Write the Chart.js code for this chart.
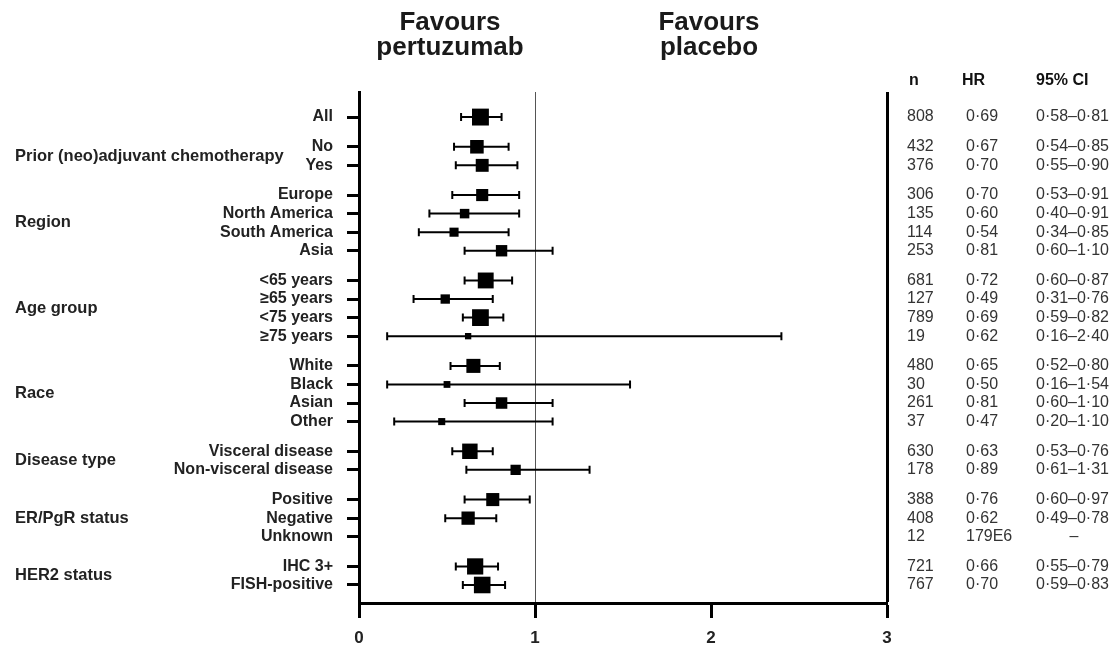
<!DOCTYPE html>
<html>
<head>
<meta charset="utf-8">
<script src="https://cdn.jsdelivr.net/npm/chart.js@4.4.1/dist/chart.umd.min.js"></script>
<style>
  html, body { margin: 0; padding: 0; background: #fff; }
  #wrap { width: 1114px; height: 646px; }
</style>
</head>
<body>
<div id="wrap"><canvas id="forest"></canvas></div>
<script>
// groups of subgroups, in order from top to bottom
const groupNames = ['', 'Prior (neo)adjuvant chemotherapy', 'Region', 'Age group', 'Race', 'Disease type', 'ER/PgR status', 'HER2 status'];
const groupSizes = [1, 2, 4, 4, 4, 2, 3, 2];
const subgroups = ['All', 'No', 'Yes', 'Europe', 'North America', 'South America', 'Asia',
  '<65 years', '≥65 years', '<75 years', '≥75 years', 'White', 'Black', 'Asian', 'Other',
  'Visceral disease', 'Non-visceral disease', 'Positive', 'Negative', 'Unknown', 'IHC 3+', 'FISH-positive'];
const nValues = [808, 432, 376, 306, 135, 114, 253, 681, 127, 789, 19, 480, 30, 261, 37, 630, 178, 388, 408, 12, 721, 767];
const hrValues = [0.69, 0.67, 0.70, 0.70, 0.60, 0.54, 0.81, 0.72, 0.49, 0.69, 0.62, 0.65, 0.50, 0.81, 0.47, 0.63, 0.89, 0.76, 0.62, null, 0.66, 0.70];
const ciLow = [0.58, 0.54, 0.55, 0.53, 0.40, 0.34, 0.60, 0.60, 0.31, 0.59, 0.16, 0.52, 0.16, 0.60, 0.20, 0.53, 0.61, 0.60, 0.49, null, 0.55, 0.59];
const ciHigh = [0.81, 0.85, 0.90, 0.91, 0.91, 0.85, 1.10, 0.87, 0.76, 0.82, 2.40, 0.80, 1.54, 1.10, 1.10, 0.76, 1.31, 0.97, 0.78, null, 0.79, 0.83];
const unknownHrText = '179E6';
const xTicks = [0, 1, 2, 3];

// row positions: one unit per row, a bigger gap between groups
const rowPos = [];
const groupMid = [];
let p = 0;
groupSizes.forEach((size, g) => {
  if (g > 0) p += 1.6;
  const start = p;
  for (let i = 0; i < size; i++) {
    rowPos.push(p);
    if (i < size - 1) p += 1;
  }
  groupMid.push((start + p) / 2);
});

const fmt = v => v.toFixed(2).replace('.', '·');
const hrText = hrValues.map(v => v === null ? unknownHrText : fmt(v));
const ciText = ciLow.map((lo, i) => lo === null ? '–' : fmt(lo) + '–' + fmt(ciHigh[i]));

// marker side grows with sample size
const markerRadius = nValues.map(n => (4.4 + 0.44 * Math.sqrt(n)) / Math.SQRT2);

const FONT = "Arial, 'Liberation Sans', sans-serif";

const points = [];
const radii = [];
hrValues.forEach((v, i) => {
  if (v === null) return;
  points.push({ x: v, y: rowPos[i] });
  radii.push(markerRadius[i]);
});

// whiskers for the confidence intervals
const errorBars = {
  id: 'errorBars',
  beforeDatasetsDraw(chart) {
    const { ctx, scales: { x, y } } = chart;
    ctx.save();
    ctx.strokeStyle = '#000';
    ctx.lineWidth = 2;
    ciLow.forEach((lo, i) => {
      if (lo === null) return;
      const py = y.getPixelForValue(rowPos[i]);
      const x1 = x.getPixelForValue(lo);
      const x2 = x.getPixelForValue(ciHigh[i]);
      ctx.beginPath();
      ctx.moveTo(x1, py); ctx.lineTo(x2, py);
      ctx.moveTo(x1, py - 4); ctx.lineTo(x1, py + 4);
      ctx.moveTo(x2, py - 4); ctx.lineTo(x2, py + 4);
      ctx.stroke();
    });
    ctx.restore();
  }
};

// titles, group names and the n / HR / CI table
const annotations = {
  id: 'annotations',
  afterDraw(chart) {
    const { ctx, scales: { y } } = chart;
    ctx.save();
    ctx.fillStyle = '#1a1a1a';
    ctx.textAlign = 'center';
    ctx.textBaseline = 'alphabetic';
    ctx.font = 'bold 26px ' + FONT;
    ctx.fillText('Favours', 450, 30);
    ctx.fillText('pertuzumab', 450, 55);
    ctx.fillText('Favours', 709, 30);
    ctx.fillText('placebo', 709, 55);

    ctx.textAlign = 'left';
    ctx.textBaseline = 'middle';
    ctx.font = 'bold 16.5px ' + FONT;
    ctx.fillStyle = '#222';
    groupNames.forEach((name, g) => {
      if (name) ctx.fillText(name, 15, y.getPixelForValue(groupMid[g]));
    });

    ctx.font = 'bold 16px ' + FONT;
    ctx.fillStyle = '#111';
    ctx.fillText('n', 909, 81);
    ctx.fillText('HR', 962, 81);
    ctx.fillText('95% CI', 1036, 81);

    ctx.font = '16px ' + FONT;
    ctx.fillStyle = '#333';
    nValues.forEach((n, i) => {
      const py = y.getPixelForValue(rowPos[i]);
      ctx.fillText(String(n), 907, py);
      ctx.fillText(hrText[i], 966, py);
      if (ciLow[i] === null) {
        ctx.textAlign = 'center';
        ctx.fillText(ciText[i], 1074, py);
        ctx.textAlign = 'left';
      } else {
        ctx.fillText(ciText[i], 1036, py);
      }
    });
    ctx.restore();
  }
};

const lastPos = rowPos[rowPos.length - 1];

new Chart(document.getElementById('forest'), {
  type: 'scatter',
  data: {
    datasets: [{
      data: points,
      pointStyle: 'rect',
      pointRadius: radii,
      pointHoverRadius: radii,
      backgroundColor: '#000',
      borderWidth: 0
    }]
  },
  options: {
    responsive: true,
    maintainAspectRatio: false,
    animation: false,
    events: [],
    layout: { padding: { left: 0, right: 227, top: 92, bottom: 0 } },
    plugins: { legend: { display: false }, tooltip: { enabled: false } },
    scales: {
      x: {
        type: 'linear',
        min: 0,
        max: 3,
        afterBuildTicks: scale => { scale.ticks = xTicks.map(v => ({ value: v })); },
        afterFit: scale => { scale.height = 43; },
        ticks: { color: '#222', padding: 10, font: { family: FONT, size: 17, weight: 'bold' } },
        grid: {
          color: c => c.tick && c.tick.value === 1 ? '#555' : (c.tick && c.tick.value === 3 ? '#000' : 'rgba(0,0,0,0)'),
          lineWidth: c => c.tick && c.tick.value === 3 ? 3 : 1,
          tickColor: '#000',
          tickWidth: 3,
          tickLength: 15
        },
        border: { display: true, color: '#000', width: 3 }
      },
      y: {
        type: 'linear',
        reverse: true,
        min: -1.35,
        max: lastPos + 0.97,
        afterBuildTicks: scale => { scale.ticks = rowPos.map(v => ({ value: v })); },
        afterFit: scale => { scale.width = 359; },
        ticks: {
          autoSkip: false,
          color: '#222',
          padding: 14,
          font: { family: FONT, size: 16, weight: 'bold' },
          callback: (value, index) => subgroups[index]
        },
        grid: {
          drawOnChartArea: false,
          tickColor: '#000',
          tickWidth: 3,
          tickLength: 12
        },
        border: { display: true, color: '#000', width: 3 }
      }
    }
  },
  plugins: [errorBars, annotations]
});
</script>
</body>
</html>
